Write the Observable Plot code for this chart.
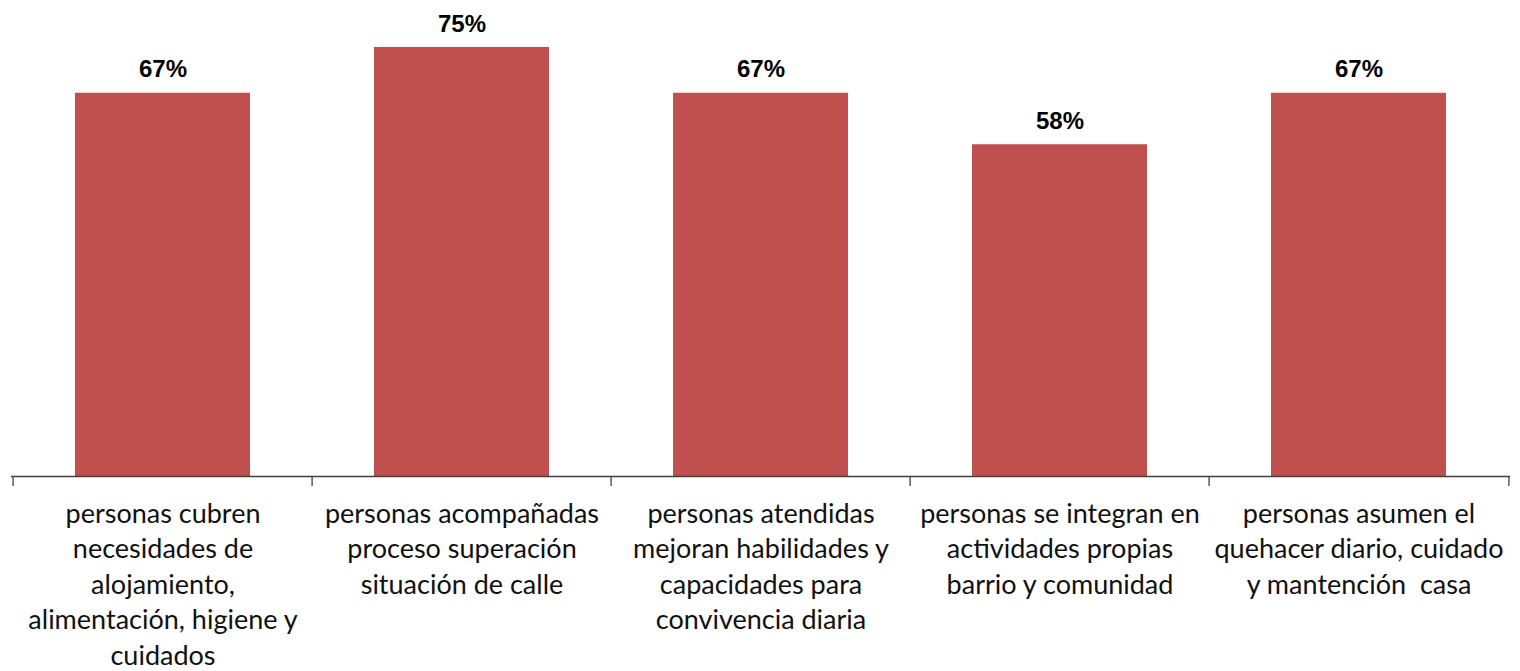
<!DOCTYPE html>
<html>
<head>
<meta charset="utf-8">
<script src="https://cdn.jsdelivr.net/npm/d3@7"></script>
<script src="https://cdn.jsdelivr.net/npm/@observablehq/plot@0.6"></script>
<style>
  html, body { margin: 0; padding: 0; background: #fff; }
  #chart svg { display: block; }
</style>
</head>
<body>
<div id="chart"></div>
<script>
const categories = [
  "personas cubren\nnecesidades de\nalojamiento,\nalimentación, higiene y\ncuidados",
  "personas acompañadas\nproceso superación\nsituación de calle",
  "personas atendidas\nmejoran habilidades y\ncapacidades para\nconvivencia diaria",
  "personas se integran en\nactividades propias\nbarrio y comunidad",
  "personas asumen el\nquehacer diario, cuidado\ny mantención  casa"
];
const values = [67, 75, 67, 58, 67];
const valueLabels = ["67%", "75%", "67%", "58%", "67%"];

const data = categories.map((c, i) => ({cat: c, value: values[i], label: valueLabels[i]}));

const W = 1520, H = 671;
const mL = 11, mR = 10;
const pad = 0.4163;
const step = (W - mL - mR) / categories.length;
const half = step / 2;

const chart = Plot.plot({
  width: W,
  height: H,
  marginTop: 47,
  marginBottom: 195,
  marginLeft: mL,
  marginRight: mR,
  style: {background: "#fff"},
  x: {domain: categories, paddingInner: pad, paddingOuter: pad / 2, axis: null},
  y: {domain: [0, 75], axis: null},
  marks: [
    Plot.barY(data, {x: "cat", y: "value", fill: "#C0504D"}),
    Plot.ruleY([0], {stroke: "#404040", strokeWidth: 1.3}),
    Plot.ruleX(data, {x: "cat", dx: -half, y1: 0, y2: 0, insetBottom: -10, stroke: "#404040", strokeWidth: 1.3}),
    Plot.ruleX(data.slice(-1), {x: "cat", dx: half, y1: 0, y2: 0, insetBottom: -10, stroke: "#404040", strokeWidth: 1.3}),
    Plot.text(data, {x: "cat", y: "value", text: "label", lineAnchor: "bottom", dy: -16,
      fontFamily: "'Liberation Sans', Arial, sans-serif", fontWeight: "bold", fontSize: 24, fill: "#000"}),
    Plot.text(data, {x: "cat", y: 0, text: "cat", lineAnchor: "top", dy: 21, lineHeight: 1.315,
      fontFamily: "Lato, 'Open Sans', sans-serif", fontSize: 27, fill: "#111"})
  ]
});
document.getElementById("chart").appendChild(chart);
</script>
</body>
</html>
